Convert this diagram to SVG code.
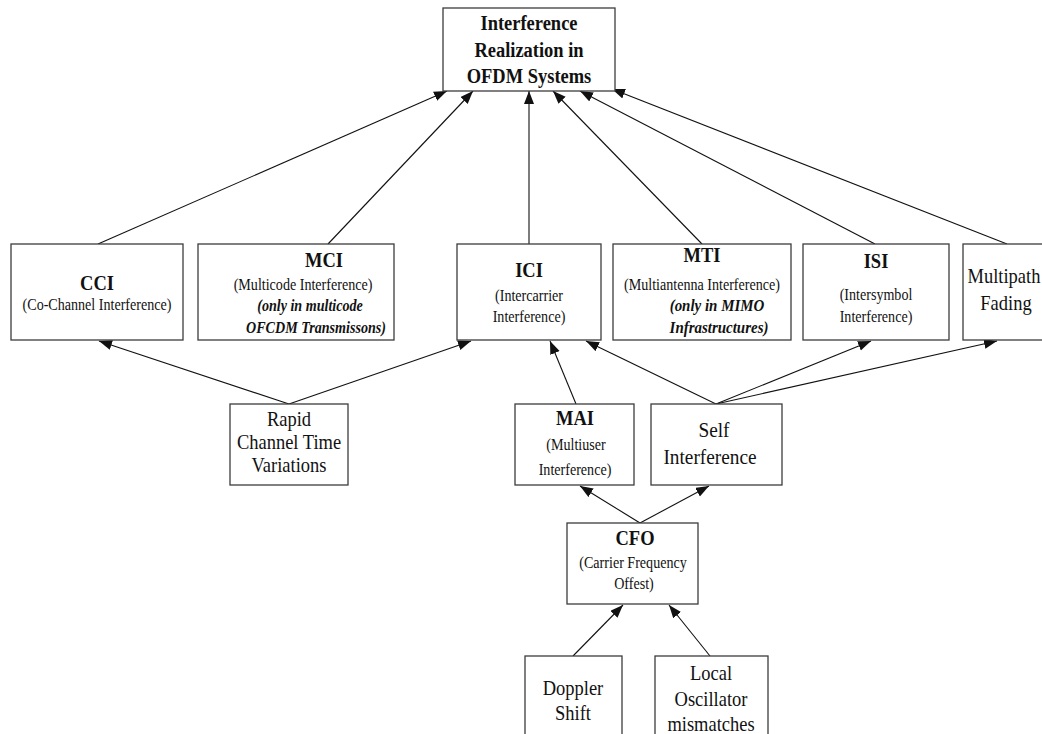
<svg xmlns="http://www.w3.org/2000/svg" width="1042" height="734" viewBox="0 0 1042 734">
  <style>
    .box { fill: #ffffff; stroke: #3c3c3c; stroke-width: 1.3; }
    text { font-family: 'Liberation Serif', 'Times New Roman', 'DejaVu Serif', serif; text-anchor: middle; fill: #111111; }
    .ttl { font-weight: bold; font-size: 22px; }
    .h { font-weight: bold; font-size: 21px; }
    .s { font-size: 16px; }
    .i { font-size: 16px; font-weight: bold; font-style: italic; }
    .i2 { font-size: 17px; font-weight: bold; font-style: italic; }
    .m { font-size: 21px; }
    .edge { stroke: #111111; stroke-width: 1.1; fill: none; marker-end: url(#ah); }
  </style>
  <defs>
    <marker id="ah" markerUnits="userSpaceOnUse" markerWidth="14" markerHeight="11" refX="13" refY="5" orient="auto">
      <path d="M0,0 L13,5 L0,10 z" fill="#111111"/>
    </marker>
  </defs>
  <rect width="1042" height="734" fill="#ffffff"/>

  <!-- connectors -->
  <g id="connectors">
    <line class="edge" x1="98" y1="244" x2="447" y2="91"/>
    <line class="edge" x1="328" y1="244" x2="473" y2="91"/>
    <line class="edge" x1="529" y1="244" x2="529" y2="91"/>
    <line class="edge" x1="702" y1="244" x2="553" y2="91"/>
    <line class="edge" x1="875" y1="244" x2="580" y2="91"/>
    <line class="edge" x1="1007" y1="244" x2="612" y2="89"/>
    <line class="edge" x1="289" y1="404" x2="99" y2="341"/>
    <line class="edge" x1="289" y1="404" x2="471" y2="341"/>
    <line class="edge" x1="576" y1="404" x2="550" y2="341"/>
    <line class="edge" x1="716" y1="404" x2="586" y2="341"/>
    <line class="edge" x1="716" y1="404" x2="871" y2="341"/>
    <line class="edge" x1="716" y1="404" x2="997" y2="341"/>
    <line class="edge" x1="640" y1="523" x2="580" y2="486"/>
    <line class="edge" x1="640" y1="523" x2="709" y2="486"/>
    <line class="edge" x1="573" y1="656" x2="623" y2="605"/>
    <line class="edge" x1="710" y1="656" x2="669" y2="605"/>
  </g>

  <g id="root">
    <rect class="box" x="443" y="8" width="172" height="83"/>
    <text class="ttl" transform="translate(529 30) scale(.84 1)">Interference</text>
    <text class="ttl" transform="translate(529 57) scale(.84 1)">Realization in</text>
    <text class="ttl" transform="translate(529 83) scale(.84 1)">OFDM Systems</text>
  </g>

  <g id="cci">
    <rect class="box" x="11" y="244" width="172" height="96"/>
    <text class="h" transform="translate(97 290) scale(.88 1)">CCI</text>
    <text class="s" transform="translate(97 310) scale(.88 1)">(Co-Channel Interference)</text>
  </g>

  <g id="mci">
    <rect class="box" x="198" y="244" width="196" height="96"/>
    <text class="h" transform="translate(324 267) scale(.88 1)">MCI</text>
    <text class="s" transform="translate(303 290) scale(.88 1)">(Multicode Interference)</text>
    <text class="i" transform="translate(310 311) scale(.88 1)">(only in multicode</text>
    <text class="i" transform="translate(316 333) scale(.88 1)">OFCDM Transmissons)</text>
  </g>

  <g id="ici">
    <rect class="box" x="457" y="244" width="144" height="96"/>
    <text class="h" transform="translate(529 277) scale(.88 1)">ICI</text>
    <text class="s" transform="translate(529 301) scale(.88 1)">(Intercarrier</text>
    <text class="s" transform="translate(529 322) scale(.88 1)">Interference)</text>
  </g>

  <g id="mti">
    <rect class="box" x="613" y="244" width="178" height="96"/>
    <text class="h" transform="translate(702 262) scale(.88 1)">MTI</text>
    <text class="s" transform="translate(702 290) scale(.88 1)">(Multiantenna Interference)</text>
    <text class="i2" transform="translate(717 311) scale(.88 1)">(only in MIMO</text>
    <text class="i2" transform="translate(719 333) scale(.88 1)">Infrastructures)</text>
  </g>

  <g id="isi">
    <rect class="box" x="803" y="244" width="146" height="96"/>
    <text class="h" transform="translate(876 268) scale(.88 1)">ISI</text>
    <text class="s" transform="translate(876 300) scale(.88 1)">(Intersymbol</text>
    <text class="s" transform="translate(876 322) scale(.88 1)">Interference)</text>
  </g>

  <g id="multipath">
    <rect class="box" x="963" y="244" width="90" height="96"/>
    <text class="m" transform="translate(1004 283) scale(.88 1)">Multipath</text>
    <text class="m" transform="translate(1006 310) scale(.88 1)">Fading</text>
  </g>

  <g id="rapid">
    <rect class="box" x="230" y="404" width="118" height="81"/>
    <text class="m" transform="translate(289 426) scale(.88 1)">Rapid</text>
    <text class="m" transform="translate(289 449) scale(.88 1)">Channel Time</text>
    <text class="m" transform="translate(289 472) scale(.88 1)">Variations</text>
  </g>

  <g id="mai">
    <rect class="box" x="515" y="404" width="119" height="81"/>
    <text class="h" transform="translate(575 425) scale(.88 1)">MAI</text>
    <text class="s" transform="translate(576 450) scale(.88 1)">(Multiuser</text>
    <text class="s" transform="translate(575 475) scale(.88 1)">Interference)</text>
  </g>

  <g id="self">
    <rect class="box" x="651" y="404" width="131" height="81"/>
    <text class="m" transform="translate(714 437) scale(.92 1)">Self</text>
    <text class="m" transform="translate(710 464) scale(.92 1)">Interference</text>
  </g>

  <g id="cfo">
    <rect class="box" x="567" y="523" width="131" height="81"/>
    <text class="h" transform="translate(635 545) scale(.88 1)">CFO</text>
    <text class="s" transform="translate(633 568) scale(.88 1)">(Carrier Frequency</text>
    <text class="s" transform="translate(634 589) scale(.88 1)">Offest)</text>
  </g>

  <g id="doppler">
    <rect class="box" x="525" y="656" width="97" height="90"/>
    <text class="m" transform="translate(573 695) scale(.88 1)">Doppler</text>
    <text class="m" transform="translate(573 720) scale(.88 1)">Shift</text>
  </g>

  <g id="local">
    <rect class="box" x="655" y="656" width="113" height="90"/>
    <text class="m" transform="translate(711 680) scale(.88 1)">Local</text>
    <text class="m" transform="translate(711 706) scale(.88 1)">Oscillator</text>
    <text class="m" transform="translate(711 731) scale(.88 1)">mismatches</text>
  </g>
</svg>
